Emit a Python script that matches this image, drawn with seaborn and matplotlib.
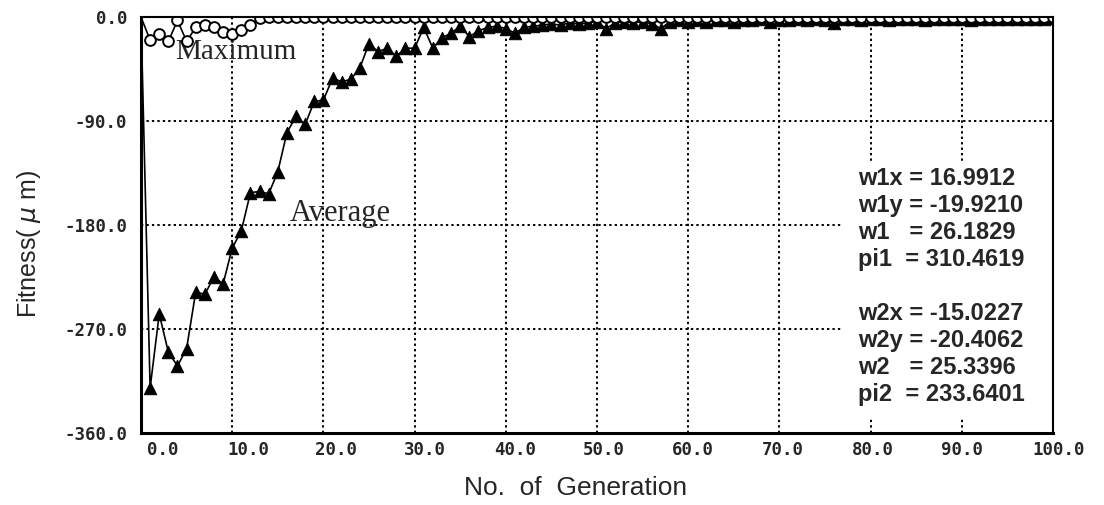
import numpy as np
import pandas as pd
import matplotlib
matplotlib.use("Agg")
import matplotlib.pyplot as plt
import matplotlib.transforms as mtransforms
from matplotlib.patches import Rectangle
import seaborn as sns

# values
generation = list(range(0, 101))

maximum = [0, -20, -15, -21, -3, -21, -9, -7, -9, -13, -15, -11, -7, -1] + [0] * 87

average = [0,
           -321, -257, -290, -302, -287, -238, -240, -225, -231, -200,
           -185, -152, -151, -153, -134, -100, -86, -93, -73, -72,
           -53, -56, -54, -44, -23, -30, -27, -34, -27, -27,
           -9, -27, -18, -14, -8, -17, -12, -9, -8, -10,
           -14, -9, -8, -7, -6, -7, -5, -6, -5, -4,
           -10, -5, -4, -5, -4, -6, -10, -4, -3, -4,
           -3, -4, -3, -3, -4, -3, -3, -2, -4, -3,
           -3, -2, -3, -2, -3, -5, -2, -2, -3, -2,
           -2, -3, -2, -2, -2, -3, -2, -2, -2, -2,
           -3, -2, -2, -2, -2, -2, -2, -2, -2, -1]

x_ticks = [0, 10, 20, 30, 40, 50, 60, 70, 80, 90, 100]
y_ticks = [0, -90, -180, -270, -360]

info_1 = ["w1x = 16.9912", "w1y = -19.9210", "w1   = 26.1829", "pi1  = 310.4619"]
info_2 = ["w2x = -15.0227", "w2y = -20.4062", "w2   = 25.3396", "pi2  = 233.6401"]

df = pd.DataFrame({"gen": generation, "max": maximum, "avg": average})
pts = df[df["gen"] >= 1]

sns.set_style("white")
plt.rcParams['font.family'] = ['DejaVu Sans']

fig = plt.figure(figsize=(11.04, 5.05), dpi=100)
ax = fig.add_axes([141 / 1104, 1 - 433 / 505, 912 / 1104, 416 / 505])

# grid
for gx in x_ticks[1:-1]:
    ax.axvline(gx, color='black', lw=1.4, ls=(0, (1.2, 1.6)), zorder=1)
for gy in y_ticks[1:-1]:
    ax.axhline(gy, color='black', lw=1.4, ls=(0, (1.2, 1.6)), zorder=1)

# white panel behind the parameter text (hides the grid there)
ax.add_patch(Rectangle((76.8, -347), 23.2, 221, transform=ax.transData,
                       facecolor='white', edgecolor='none', zorder=2))

# average line + triangles
sns.lineplot(data=df, x="gen", y="avg", ax=ax, color='black', lw=1.2, zorder=3)
sns.scatterplot(data=pts, x="gen", y="avg", ax=ax, marker='^', s=80, color='black',
                edgecolor='black', zorder=4)

# maximum line + open circles
sns.lineplot(data=df, x="gen", y="max", ax=ax, color='black', lw=1.2, zorder=5)
sns.scatterplot(data=pts, x="gen", y="max", ax=ax, marker='o', s=60, facecolor='white',
                edgecolor='black', linewidth=1.4, zorder=6)

ax.set_xlim(0, 100)
ax.set_ylim(-360, 0)
ax.set_xticks(x_ticks)
ax.set_yticks(y_ticks)
ax.set_xticklabels([f"{v:.1f}" for v in x_ticks], family='DejaVu Sans Mono',
                   fontweight='bold', fontsize=12.5)
ax.set_yticklabels([f"{v:.1f}" for v in y_ticks], family='DejaVu Sans Mono',
                   fontweight='bold', fontsize=12.5)
ax.tick_params(axis='both', length=0)
ax.tick_params(axis='y', pad=10)
ax.tick_params(axis='x', pad=6)
# the old plotting program put its x labels a little right of the grid lines
label_shift_px = [22, 16, 13, 10, 9, 7, 5, 3, 2, 0, 6]
for lab, dx in zip(ax.get_xticklabels(), label_shift_px):
    lab.set_transform(lab.get_transform() +
                      mtransforms.ScaledTranslation(dx / 100, 0, fig.dpi_scale_trans))

for side in ['left', 'bottom']:
    ax.spines[side].set_linewidth(2.2)
for side in ['right', 'top']:
    ax.spines[side].set_linewidth(1.5)
for sp in ax.spines.values():
    sp.set_color('black')
    sp.set_zorder(8)

ax.set_xlabel("No.  of  Generation", family='Liberation Sans', fontsize=19)
ax.set_ylabel("Fitness( $\\mu$ m)", family='Liberation Sans', fontsize=18)
ax.xaxis.set_label_coords(0.477, -0.104)
ax.yaxis.set_label_coords(-0.108, 0.455)

ax.text(3.7, -30, "Maximum", family='Liberation Serif', fontsize=21, va='center', ha='left')
ax.text(16.3, -170, "Average", family='Liberation Serif', fontsize=22, va='center', ha='left')

info_font = ['Liberation Sans Narrow', 'Liberation Sans']
for i, line in enumerate(info_1):
    ax.text(78.6, -140 - i * 23.3, line, family=info_font, fontweight='bold', fontsize=17,
            va='center', ha='left', zorder=7)
for i, line in enumerate(info_2):
    ax.text(78.6, -257 - i * 23.3, line, family=info_font, fontweight='bold', fontsize=17,
            va='center', ha='left', zorder=7)

ax.set_facecolor('white')
fig.savefig("out.png", dpi=100, facecolor='white')
